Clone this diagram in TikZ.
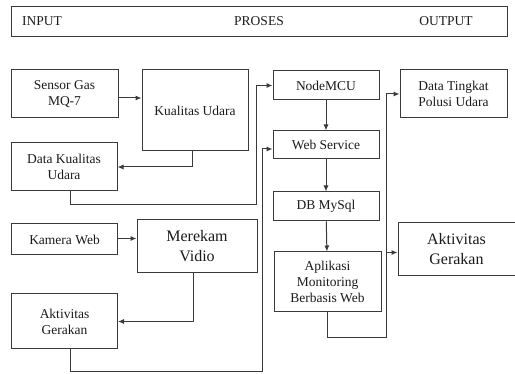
\documentclass[tikz,border=0pt]{standalone}
\usepackage{fontspec}
\setmainfont{Liberation Serif}
\usetikzlibrary{arrows.meta}
\definecolor{lineGray}{HTML}{3A3A3A}
\definecolor{textDark}{HTML}{1A1A1A}

\begin{document}
\begin{tikzpicture}[x=1pt,y=-1pt,>={Latex[length=6pt,width=5pt]},
    blok/.style={draw=lineGray,line width=1pt,align=center,inner sep=0pt,
      text=textDark,font=\fontsize{13.5}{16}\selectfont},
    besar/.style={font=\fontsize{16}{20}\selectfont},
    judul/.style={text=textDark,font=\fontsize{13.5}{16}\selectfont},
    alur/.style={->,draw=lineGray,line width=1pt}]
  \useasboundingbox (0,0) rectangle (515,374);
  \node[blok,minimum width=496pt,minimum height=30pt] (header) at (259,22) {};
  \node[judul] (input) at (42,21) {INPUT};
  \node[judul] (proses) at (259,21) {PROSES};
  \node[judul] (output) at (446,21) {OUTPUT};

  \node[blok,minimum width=107pt,minimum height=48pt] (sensor) at (64.5,94) {Sensor Gas\\MQ-7};
  \node[blok,minimum width=106pt,minimum height=81pt] (kualitas) at (195,110.5) {Kualitas Udara};
  \node[blok,minimum width=106pt,minimum height=48pt] (datakualitas) at (64,167) {Data Kualitas\\Udara};
  \node[blok,minimum width=106pt,minimum height=31pt] (kamera) at (64.5,239.5) {Kamera Web};
  \node[blok,besar,minimum width=120pt,minimum height=53pt] (merekam) at (197,246.5) {Merekam\\Vidio};
  \node[blok,minimum width=106pt,minimum height=55pt] (aktivitaskiri) at (64.5,321.5) {Aktivitas\\Gerakan};

  \node[blok,minimum width=106pt,minimum height=29pt] (nodemcu) at (326,85.5) {NodeMCU};
  \node[blok,minimum width=106pt,minimum height=28pt] (webservice) at (326,145) {Web Service};
  \node[blok,minimum width=106pt,minimum height=29pt] (dbmysql) at (326,206.5) {DB MySql};
  \node[blok,minimum width=107pt,minimum height=60pt] (aplikasi) at (327.5,282) {Aplikasi\\Monitoring\\Berbasis Web};

  \node[blok,minimum width=107pt,minimum height=48pt] (datatingkat) at (453.5,94) {Data Tingkat\\Polusi Udara};
  \node[blok,besar,minimum width=117pt,minimum height=53pt] (aktivitaskanan) at (456.5,249.5) {Aktivitas\\Gerakan};

  \coordinate (busA) at (256,205);
  \coordinate (busB) at (262,372);
  \coordinate (busC) at (386,338);

  \draw[alur] ([yshift=-4pt]sensor.east) -- ([yshift=-4pt]sensor.east -| kualitas.west);
  \draw[alur] ([xshift=-3pt]kualitas.south) |- (datakualitas.east);
  \draw[alur] ([xshift=6pt]datakualitas.south) |- (busA) |- (nodemcu.west);
  \draw[alur] ([yshift=1pt]kamera.east) -- ([yshift=1pt]kamera.east -| merekam.west);
  \draw[alur] ([xshift=-4pt]merekam.south) |- (aktivitaskiri.east);
  \draw[alur] ([xshift=6pt]aktivitaskiri.south) |- (busB) |- ([yshift=-4pt]webservice.west);
  \draw[alur] (nodemcu) -- (webservice);
  \draw[alur] (webservice) -- (dbmysql);
  \draw[alur] (dbmysql) -- (aplikasi);
  \draw[alur] (aplikasi.south) |- (busC) |- (datatingkat.west);
  \draw[alur] ([yshift=-3pt]busC |- aktivitaskanan.west) -- ([yshift=-3pt]aktivitaskanan.west);
\end{tikzpicture}
\end{document}
